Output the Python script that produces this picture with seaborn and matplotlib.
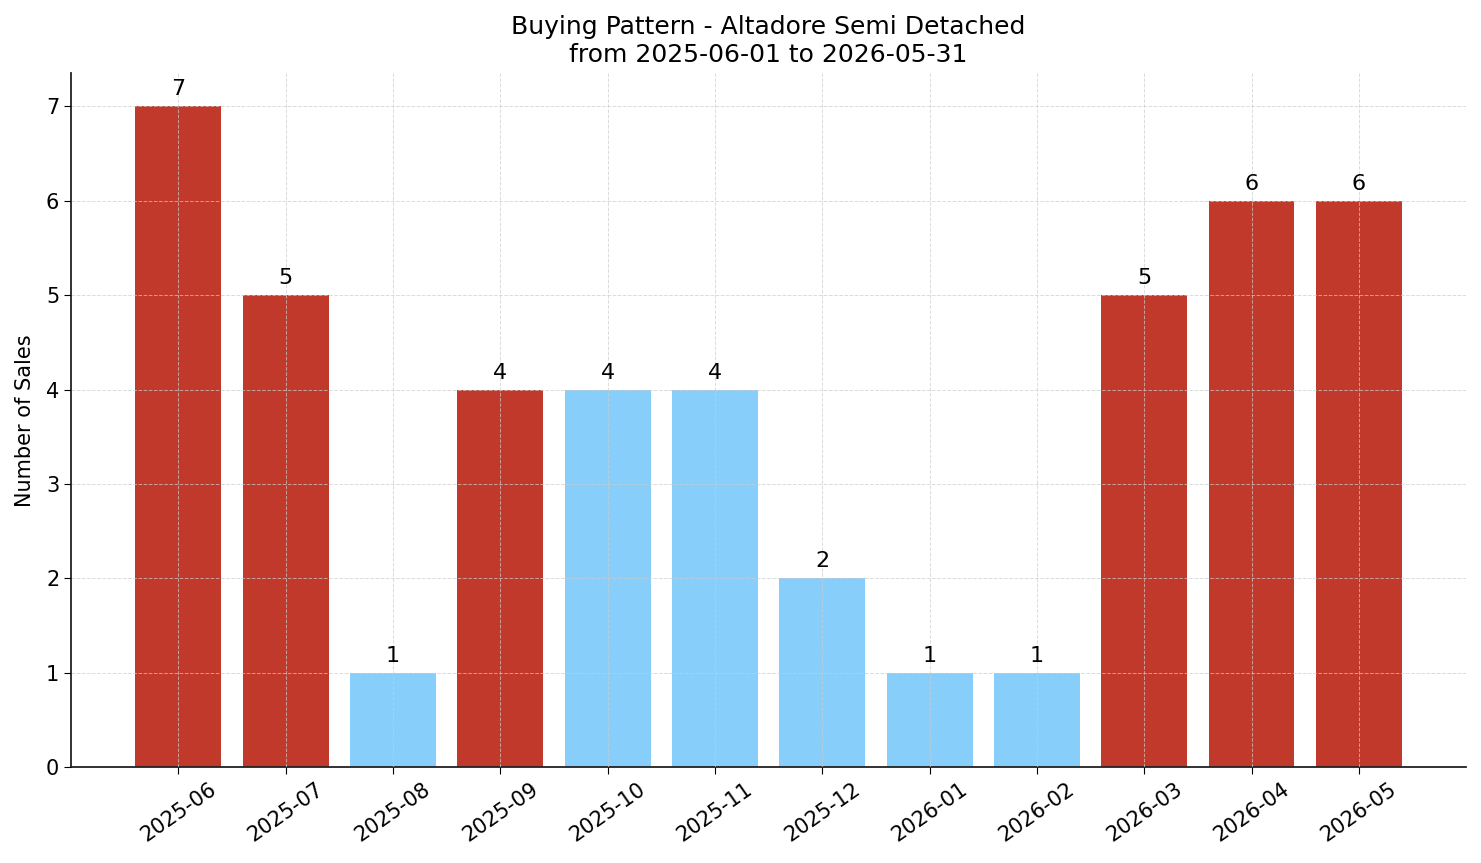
import matplotlib

matplotlib.use("Agg")
import matplotlib.pyplot as plt
import pandas as pd
import seaborn as sns

months = [
    "2025-06", "2025-07", "2025-08", "2025-09", "2025-10", "2025-11",
    "2025-12", "2026-01", "2026-02", "2026-03", "2026-04", "2026-05",
]
sales = [7, 5, 1, 4, 4, 4, 2, 1, 1, 5, 6, 6]
season = ["hot", "hot", "cold", "hot", "cold", "cold",
          "cold", "cold", "cold", "hot", "hot", "hot"]

SEASON_COLORS = {
    "hot": "#c0392b",  # red
    "cold": "#87cefa",  # light blue
}

df = pd.DataFrame({"month": months, "sales": sales, "season": season})

sns.set_style("ticks")
plt.rcParams["font.family"] = ["DejaVu Sans"]
for key in ["text.color", "axes.labelcolor", "xtick.color", "ytick.color"]:
    plt.rcParams[key] = "black"

fig, ax = plt.subplots(figsize=(14.81, 8.63), dpi=100)

sns.barplot(
    data=df,
    x="month",
    y="sales",
    hue="season",
    palette=SEASON_COLORS,
    order=months,
    width=0.8,
    dodge=False,
    legend=False,
    saturation=1,
    linewidth=0,
    ax=ax,
)

for container in ax.containers:
    ax.bar_label(container, fmt="%d", padding=5, fontsize=16)

ax.set_xlim(-1, len(months))
ax.set_ylim(0, max(sales) * 1.05)

ax.set_xlabel("")
ax.set_ylabel("Number of Sales", fontsize=15, labelpad=8)
ax.set_title(
    "Buying Pattern - Altadore Semi Detached\nfrom 2025-06-01 to 2026-05-31",
    fontsize=18,
    pad=8,
)
ax.tick_params(axis="both", labelsize=15, length=5)
plt.setp(ax.get_xticklabels(), rotation=35)

ax.set_axisbelow(False)
ax.grid(True, linestyle="--", color="#cccccc", linewidth=0.7, alpha=0.7)

for side in ["top", "right"]:
    ax.spines[side].set_visible(False)
for side in ["left", "bottom"]:
    ax.spines[side].set_color("#222222")
    ax.spines[side].set_linewidth(1.3)

fig.subplots_adjust(left=0.048, right=0.99, top=0.915, bottom=0.111)
fig.savefig("out.png", dpi=100)
